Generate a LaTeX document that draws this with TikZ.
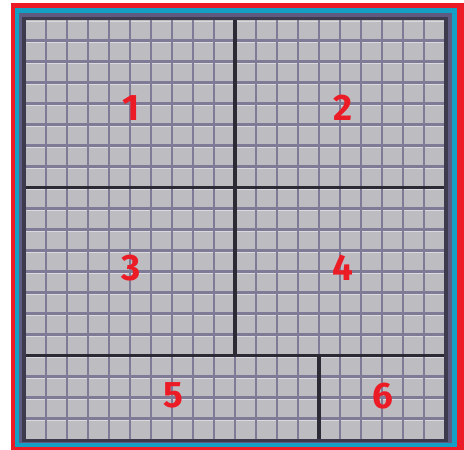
\documentclass[tikz,border=0pt]{standalone}
\usepackage{fontspec}
\setmainfont{Fira Sans}
\usepackage{tikz}
\usetikzlibrary{positioning}
\definecolor{lotred}{HTML}{EC1C26}
\definecolor{lotcyan}{HTML}{14A0C4}
\definecolor{lotframe}{HTML}{5E5A80}
\definecolor{lotedge}{HTML}{3C3A4C}
\definecolor{lotfill}{HTML}{BDBDC1}
\definecolor{lotline}{HTML}{7F7B96}
\definecolor{lothigh}{HTML}{DADADE}
\definecolor{lotdark}{HTML}{2C2A34}
\tikzset{
  lotgrid/.style={draw=lotline, line width=1.45pt},
  lothi/.style={draw=lothigh, line width=0.6pt},
  lotwall/.style={draw=lotdark, line width=2.2pt},
  lotlabel/.style={text=lotred, font=\fontsize{21}{21}\selectfont\bfseries, inner sep=0pt},
}

\begin{document}
\begin{tikzpicture}[x=0.02cm, y=-0.02cm]
  \useasboundingbox[fill=white] (0,0) rectangle (464,450);
  % frame bands
  \fill[lotred] (11,3) rectangle (464,450);
  \fill[lotcyan] (15,8) rectangle (457,447);
  \fill[lotframe] (19,13) rectangle (452,443);
  \fill[lotedge] (22,16.5) rectangle (448,442);
  \fill[lotfill] (25,19.5) rectangle (445,439.5);
  % grid
  \foreach \i in {0,...,19} {
    \draw[lothi] (25,{19.5+21*\i+1.9}) -- (445,{19.5+21*\i+1.9});
  }
  \foreach \i in {1,...,19} {
    \draw[lotgrid] (25,{19.5+21*\i}) -- (445,{19.5+21*\i});
    \draw[lotgrid] ({25+21*\i},19.5) -- ({25+21*\i},439.5);
  }
  % lot boundaries
  \draw[lotwall] (235,19.5) -- (235,355.5);
  \draw[lotwall] (25,187.5) -- (445,187.5);
  \draw[lotwall] (25,355.5) -- (445,355.5);
  \draw[lotwall] (319,355.5) -- (319,439.5);
  \draw[lotedge, line width=2pt] (24,18.5) rectangle (446,440.5);
  % lot numbers
  \node[lotlabel] (lot1) at (131,108) {1};
  \node[lotlabel] (lot2) at (343,108) {2};
  \node[lotlabel] (lot3) at (131,268) {3};
  \node[lotlabel] (lot4) at (343,268) {4};
  \node[lotlabel] (lot5) at (173,395) {5};
  \node[lotlabel] (lot6) at (383,396) {6};
\end{tikzpicture}
\end{document}
